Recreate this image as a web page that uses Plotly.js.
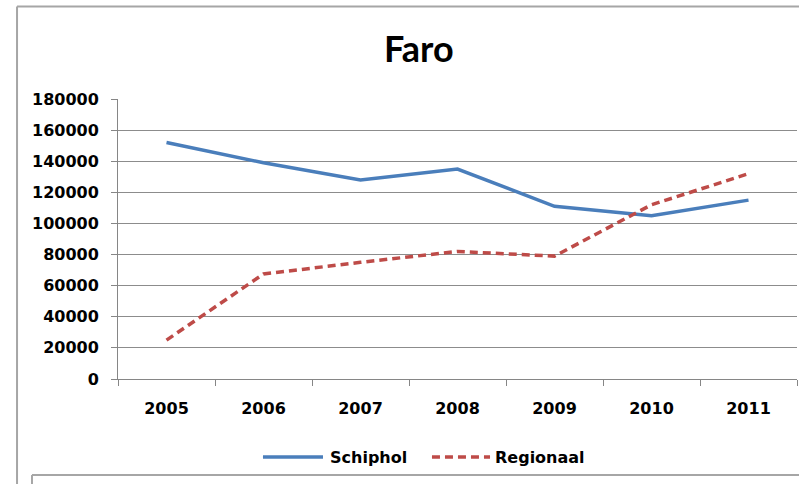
<!DOCTYPE html>
<html>
<head>
<meta charset="utf-8">
<script src="https://cdn.plot.ly/plotly-3.0.1.min.js"></script>
<style>
html,body{margin:0;padding:0;background:#fff;}
#chart{width:799px;height:484px;}
</style>
</head>
<body>
<div id="chart"></div>
<script>
const years = ["2005","2006","2007","2008","2009","2010","2011"];
const seriesNames = ["Schiphol", "Regionaal"];
const schiphol = [152000, 139000, 128000, 135000, 111000, 105000, 115000];
const regionaal = [25000, 67500, 75000, 82000, 79000, 112000, 132000];
const yTicks = [0,20000,40000,60000,80000,100000,120000,140000,160000,180000];

const tickFont = {family: "DejaVu Sans", size: 16, color: "#000", weight: "bold"};
const colors = ["#4a7ebb", "#be4b48"];
const dashes = ["solid", "8px,5px"];

const traces = [
  {x: years, y: schiphol, name: seriesNames[0], type: "scatter", mode: "lines",
   line: {color: colors[0], width: 3.5, dash: dashes[0]}},
  {x: years, y: regionaal, name: seriesNames[1], type: "scatter", mode: "lines",
   line: {color: colors[1], width: 3.5, dash: dashes[1]}}
];

const gray = "#a6a6a6";
// manual legend (positions in paper coords)
const legY = -0.2786;
const legItems = [
  {x0: 0.2135, x1: 0.3019, tx: 0.3093},
  {x0: 0.4624, x1: 0.5479, tx: 0.5523}
];
const legShapes = legItems.map((it, i) => ({type: "line", xref: "paper", yref: "paper",
  x0: it.x0, x1: it.x1, y0: legY, y1: legY, line: {color: colors[i], width: 3.5, dash: dashes[i]}}));
const legAnn = legItems.map((it, i) => ({xref: "paper", yref: "paper", x: it.tx, y: legY,
  xanchor: "left", yanchor: "middle", showarrow: false, text: "<b>" + seriesNames[i] + "</b>",
  font: {family: "DejaVu Sans", size: 16, color: "#000"}}));

const layout = {
  width: 799, height: 484,
  margin: {l: 118, r: 2, t: 99, b: 105},
  paper_bgcolor: "#fff", plot_bgcolor: "#fff",
  title: {text: "<b>Faro</b>", font: {family: "Lato", size: 36, color: "#000"},
          xref: "paper", x: 0.443, xanchor: "center", yref: "container", y: 0.897, yanchor: "middle"},
  xaxis: {type: "category", range: [-0.5, 6.5], showgrid: false,
          showline: true, linecolor: "#868686", linewidth: 1,
          ticks: "outside", tickson: "boundaries", ticklen: 6, tickcolor: "#868686",
          tickfont: tickFont, ticklabelstandoff: 15, fixedrange: true},
  yaxis: {range: [0, 180000], tickvals: yTicks, ticktext: yTicks.map(String),
          showgrid: true, gridcolor: "#8c8c8c", gridwidth: 1,
          showline: true, linecolor: "#868686", linewidth: 1,
          ticks: "outside", ticklen: 6, tickcolor: "#868686",
          tickfont: tickFont, ticklabelstandoff: 9, zeroline: false, fixedrange: true},
  showlegend: false,
  annotations: legAnn,
  shapes: [
    {type: "line", xref: "paper", yref: "paper", x0: -0.1487, x1: -0.1487, y0: 1.33, y1: -0.4, line: {color: gray, width: 2}},
    {type: "line", xref: "paper", yref: "paper", x0: -0.1487, x1: 1.01, y0: 1.33, y1: 1.33, line: {color: gray, width: 2}},
    {type: "line", xref: "paper", yref: "paper", x0: -0.1267, x1: 1.01, y0: -0.343, y1: -0.343, line: {color: gray, width: 2}},
    {type: "line", xref: "paper", yref: "paper", x0: -0.1267, x1: -0.1267, y0: -0.343, y1: -0.4, line: {color: gray, width: 2}}
  ].concat(legShapes)
};

Plotly.newPlot("chart", traces, layout, {displayModeBar: false, staticPlot: true});
</script>
</body>
</html>
